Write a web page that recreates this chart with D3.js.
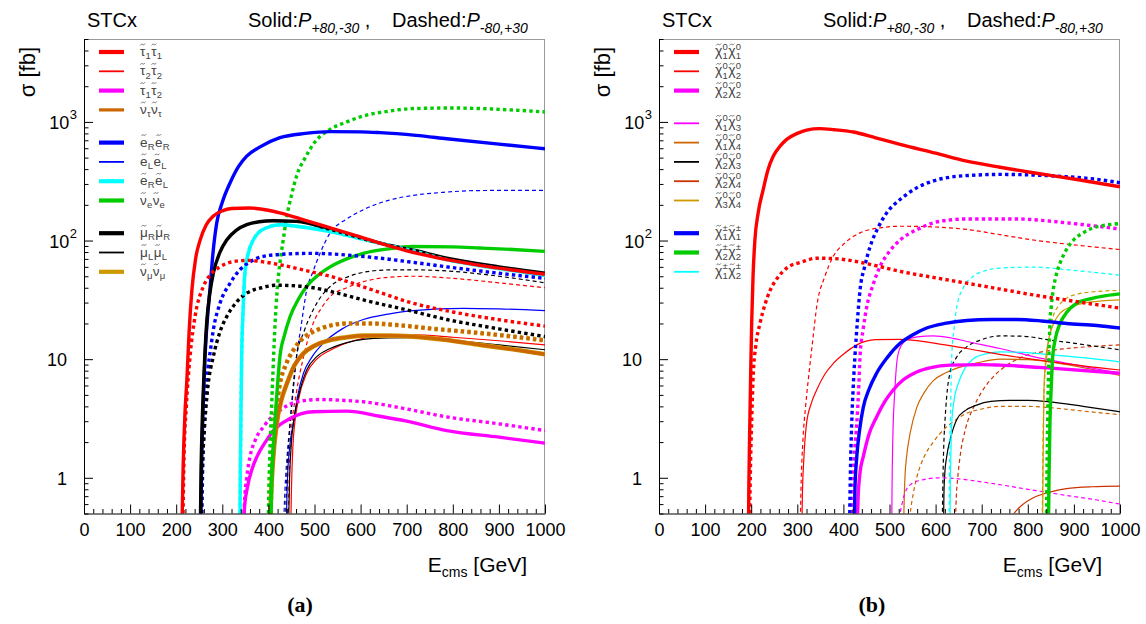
<!DOCTYPE html>
<html><head><meta charset="utf-8">
<script src="https://cdn.jsdelivr.net/npm/d3@7"></script>
<style>
body{margin:0;background:#fff}
svg{display:block}
</style>
</head><body>
<svg id="c" width="1146" height="624" font-family='"Liberation Sans",Arial,Helvetica,sans-serif'></svg>
<script>
// ---------------- DATA ----------------
const xTicks = [0,100,200,300,400,500,600,700,800,900,1000];
const xTickLabels = ["0","100","200","300","400","500","600","700","800","900","1000"];
const yTicks = [1,10,100,1000];
const yTickLabels = [["1",""],["10",""],["10","2"],["10","3"]];
const panelLetters = ["(a)","(b)"];

// Panel (a): sleptons  [E_cms GeV, sigma fb]
const tau11_s = [[212,0.3],[215,1.2],[219,3.5],[223,6.5],[228,17],[234,38],[242,70],[252,101],[265,135],[280,160],[300,178],[320,186],[360,188],[400,180],[425,171],[480,148],[534,128],[590,110],[642,95],[700,82],[787,69],[880,60],[1000,52]];
const tau11_d = [[214,0.3],[217,1.5],[222,4],[230,10.5],[241,23],[259,41],[275,52],[295,60],[320,66],[353,68],[390,66],[425,62.5],[480,56],[534,50],[620,39],[714,29.6],[800,25],[900,21.5],[1000,19]];
const tau22_s = [[448,0.3],[450,0.8],[453,1.8],[457,2.86],[465,4.5],[483,7.6],[505,10],[534,11.9],[570,13.7],[606,15],[660,15.8],[714,16],[800,15.3],[900,14.3],[1000,13.2]];
const tau22_d = [[442,0.3],[445,1],[450,2.5],[460,5],[475,10],[497,20],[515,27],[534,33.7],[570,40],[606,45],[660,49],[714,50],[800,48],[900,44],[1000,40]];
const tau12_s = [[345,0.3],[348,0.55],[355,0.85],[365,1.2],[375,1.5],[396,2.07],[411,2.5],[447,3.16],[497,3.6],[570,3.65],[642,3.3],[700,3.0],[787,2.5],[900,2.2],[1000,1.96]];
const tau12_d = [[346,0.3],[348,0.6],[353,1.0],[360,1.5],[372,2.1],[389,2.68],[405,3.2],[425,3.7],[461,4.37],[512,4.57],[560,4.5],[606,4.37],[700,3.8],[787,3.26],[900,2.85],[1000,2.5]];
const sntau_s = [[403,0.3],[405,0.6],[410,1.4],[418,2.86],[428,4.5],[440,6.2],[456,8.8],[476,11.2],[500,13],[534,14.5],[570,15.3],[606,15.8],[660,15.8],[714,15.5],[787,14.5],[859,13.2],[930,12.1],[1000,11]];
const sntau_d = [[404,0.3],[406,0.8],[412,2.5],[418,4],[425,6.2],[438,9],[454,11.9],[475,15],[497,17],[530,19],[570,20],[620,20],[678,19.4],[760,18],[859,16.6],[1000,14.4]];
const snmu_s = [[403,0.3],[405,0.6],[410,1.4],[418,2.86],[428,4.5],[440,6.2],[456,8.8],[476,11.2],[500,13],[534,14.5],[570,15.3],[606,15.8],[660,15.8],[714,15.5],[787,14.5],[859,13.2],[930,12.1],[1000,11]];
const snmu_d = [[404,0.3],[406,0.8],[412,2.5],[418,4],[425,6.2],[438,9],[454,11.9],[475,15],[497,17],[530,19],[570,20],[620,20],[678,19.4],[760,18],[859,16.6],[1000,14.4]];
const selR_s = [[253,0.3],[255,1.2],[257.4,2.86],[262.5,10.5],[269.6,27],[273,38],[280,80],[288,141],[300,210],[317,307],[335,420],[353,515],[380,610],[425,736],[480,800],[534,828],[600,825],[642,812],[720,770],[787,722],[900,650],[1000,594]];
const selR_d = [[255,0.3],[257,1],[261,3],[267,7],[275,12.5],[280.5,17.6],[295,29.6],[317,43.7],[338,56.6],[360,66],[389,73.5],[440,77],[497,78],[570,75.5],[642,71],[720,65],[787,60],[900,53],[1000,48]];
const selL_s = [[438,0.3],[441,0.9],[446,1.8],[454,2.86],[463,4.8],[476,7.6],[495,10.5],[519,13.6],[560,18],[606,21.6],[660,24],[714,25.7],[823,26.8],[900,26.5],[1000,25.7]];
const selL_d = [[432,0.3],[436,0.8],[441,1.6],[447,2.86],[454,5.5],[461,10.5],[470,18],[483,38],[497,55],[512,78],[534,116],[570,152],[606,182],[660,218],[714,240],[780,255],[859,264],[1000,265]];
const seRL_s = [[338,0.3],[339,1],[340.5,3.5],[342,10.5],[345,25],[349,53],[357,80],[367,101],[380,118],[396,128],[425,136],[460,132],[534,119],[590,106],[642,95],[720,81],[787,69],[900,58],[1000,51]];
const seRL_d = [[338,0.3],[339,1],[340.5,3.5],[342,10.5],[345,25],[349,53],[357,80],[367,101],[380,118],[396,128],[425,136],[460,132],[534,119],[590,106],[642,95],[720,81],[787,69],[900,58],[1000,51]];
const snue_s = [[405,0.3],[407,0.9],[410,1.7],[414,2.86],[419,5.5],[425,10.5],[435,16],[447,22.8],[465,32],[483,41],[505,50],[534,60],[570,70],[606,78],[660,85],[714,89],[800,88.5],[859,86.5],[930,84],[1000,81]];
const snue_d = [[399,0.3],[401,0.8],[404,2],[407,4],[410,8],[414.5,20],[419,38],[425,64.6],[432,100],[440,160],[450,240],[461,349],[480,500],[497,647],[534,866],[570,1000],[606,1122],[660,1230],[714,1296],[800,1310],[859,1296],[930,1260],[1000,1213]];
const smuR_s = [[252,0.3],[254,1.2],[256.5,3],[260,7],[266,20],[273,36],[280.5,53],[295,80],[309.5,101],[330,122],[353,136],[380,144],[410,147],[461,145],[534,124],[590,108],[642,95],[720,82],[787,71],[900,60],[1000,53]];
const smuR_d = [[253,0.3],[256,1],[261,2.5],[268,5.5],[280.5,10.5],[295,17],[309.5,22.8],[330,30],[353,36],[385,40],[418,42],[460,41.5],[497,40],[550,36],[606,31.6],[700,26],[787,21.6],[900,18],[1000,15.5]];
const smuL_s = [[443,0.3],[446,1],[450,2],[454,2.86],[465,4.8],[483,8.1],[505,10.5],[534,12.3],[570,13.8],[606,14.7],[660,15.1],[714,15.2],[800,14.4],[900,13.2],[1000,12]];
const smuL_d = [[436,0.3],[440,1],[446,2.5],[453,5.5],[461,10.5],[477,17],[497,26],[515,34],[534,41],[570,49],[606,54],[660,56.5],[714,56.6],[800,55],[900,50],[1000,44]];

// Panel (b): gauginos
const n11_s = [[193.8,0.3],[195,0.9],[197,2.86],[199,8],[201,20],[204,50],[208,101],[215,170],[226,269],[236,390],[248,515],[262,620],[277,713],[300,800],[320,854],[349,878],[380,860],[421.5,822],[470,735],[523,647],[600,545],[667.5,467],[740,415],[812,373],[900,330],[1000,284]];
const n11_d = [[196,0.3],[198,1],[201,3],[204.6,7.6],[210,13],[219,20],[230,29],[241,38],[258,49],[277,58.6],[310,66],[342,71],[380,70.5],[414,68],[470,61.5],[523,55],[600,48.5],[667.5,43.7],[740,39],[812,34.8],[900,30.8],[1000,26.9]];
const n12_s = [[309.5,0.3],[311,0.7],[314,1.4],[320,2.86],[330,4.2],[342,5.5],[360,7.5],[378,9.2],[400,11],[429,13.2],[470,14.6],[523,14.7],[600,13.6],[667.5,12.3],[750,10.8],[850,9.5],[1000,8.1]];
const n12_d = [[306,0.3],[308,0.8],[312,2],[318,4],[326,8],[334,15],[342,27.6],[360,50],[378,73.5],[400,93],[436,116],[480,128],[523,132],[600,130],[667.5,124],[740,112],[812,101],[900,92],[1000,84]];
const n22_s = [[429,0.3],[432,0.7],[436,1.1],[443,1.5],[455,2.3],[472,3.26],[490,4.4],[508,5.5],[530,6.7],[559,7.8],[590,8.5],[631,8.9],[700,9.0],[740,8.9],[850,8.4],[1000,7.6]];
const n22_d = [[418,0.3],[421,0.9],[425,1.8],[429,2.86],[433,5.5],[436,10.5],[443,18],[450.6,27.6],[464,42],[479,60],[500,81],[523,101],[560,124],[595,141],[630,149],[667.5,152],[776,152],[830,148],[884,141],[1000,125]];
const n13_s = [[504.7,0.3],[505.5,0.8],[507,2],[508,2.86],[511,5],[515.6,9.2],[522,12.2],[537,14.5],[560,15.4],[595,15.7],[630,15.2],[667.5,14.1],[740,12.3],[812,10.5],[900,9.0],[1000,7.6]];
const n13_d = [[519,0.3],[522,0.45],[528,0.62],[537,0.8],[550,0.9],[566,0.95],[609.5,1.0],[650,0.98],[703.5,0.92],[800,0.8],[884,0.71],[950,0.65],[1000,0.6]];
const n14_s = [[530,0.3],[532,0.7],[534,1.1],[537,1.5],[545,2.4],[559,3.9],[575,5.2],[595,6.6],[620,7.6],[646,8.4],[690,9.3],[740,10],[800,9.9],[848,9.5],[920,8.5],[1000,7.3]];
const n14_d = [[540,0.3],[545,0.5],[552,0.75],[559,1.0],[575,1.5],[595,2.0],[620,2.6],[645,3.1],[667.5,3.5],[700,3.8],[740,4.0],[800,4.0],[848,3.9],[920,3.65],[1000,3.4]];
const n23_s = [[616.7,0.3],[618,0.7],[620,1.1],[624,1.5],[633,2.2],[646,3.1],[665,3.7],[689,4.1],[720,4.4],[761,4.5],[800,4.5],[848,4.37],[920,4.0],[1000,3.6]];
const n23_d = [[614,0.3],[616,1],[618,2],[620,2.86],[624,4.8],[631,7.6],[645,10.3],[667.5,12.7],[700,14.6],[740,15.7],[790,15.6],[848,14.5],[920,13.3],[1000,12]];
const n24_s = [[750,0.3],[758,0.42],[770,0.5],[790,0.6],[812,0.68],[850,0.76],[884,0.81],[940,0.84],[1000,0.85]];
const n24_d = [[642,0.3],[645,0.7],[648,1.0],[653,1.5],[665,2.6],[682,3.9],[700,5.3],[725,7.1],[755,8.9],[790,10.5],[840,11.7],[884,12.3],[940,12.8],[1000,13.2]];
const n34_s = [[832,0.3],[833,1.2],[835,5.5],[838,9],[845,14.5],[855,19.5],[870,24.4],[895,27.8],[920,29.6],[960,31],[1000,31.6]];
const n34_d = [[831,0.3],[833,2],[836,6],[841,10.5],[848,16.5],[855,22.8],[868,28.5],[884,32.6],[910,35.5],[942,37],[1000,38]];
const c11_s = [[423,0.3],[425,0.8],[429,1.5],[435,2.5],[443,3.9],[455,5.5],[472,7.6],[495,10.3],[523,13.6],[550,16],[580.7,18.3],[620,20],[667.5,21.2],[720,21.6],[776,21.6],[830,21],[884,20],[950,19.2],[1000,18.3]];
const c11_d = [[413,0.3],[415,1],[418,2.86],[421,5.5],[425,10.5],[430,20],[436,38],[446,60],[458,89],[475,128],[494,171],[525,225],[559,278],[595,318],[631,342],[680,355],[740,361],[810,357],[884,345],[950,328],[1000,307]];
const c22_s = [[844.5,0.3],[846,1],[848,2.86],[851,6],[854,10.5],[860,15],[870,20],[885,25],[906,29.6],[940,32.6],[970,34.3],[1000,35.5]];
const c22_d = [[840,0.3],[842,1.5],[844,5],[846,11],[848,20],[851,28],[855,38],[862,52],[870,64.6],[884,84],[899,101],[920,116],[942,128],[970,135],[1000,139]];
const c12_s = [[631,0.3],[632,0.9],[633.5,1.8],[635,2.86],[640,4.5],[649,6.2],[663,8.3],[682,10.1],[710,11.1],[740,11.5],[790,11.4],[848,10.9],[920,10.3],[1000,9.5]];
const c12_d = [[629,0.3],[630,1],[632,3],[635,10.5],[640,18],[646,27.6],[660,40],[682,50],[710,56],[740,58.6],[812,59.7],[900,56],[1000,51]];

// Legend labels: [base, subscript, superscript]
const legendLabelsA = [
  [["τ","1",""],["τ","1",""]],
  [["τ","2",""],["τ","2",""]],
  [["τ","1",""],["τ","2",""]],
  [["ν","τ",""],["ν","τ",""]],
  [["e","R",""],["e","R",""]],
  [["e","L",""],["e","L",""]],
  [["e","R",""],["e","L",""]],
  [["ν","e",""],["ν","e",""]],
  [["μ","R",""],["μ","R",""]],
  [["μ","L",""],["μ","L",""]],
  [["ν","μ",""],["ν","μ",""]]
];
const legendLabelsB = [
  [["χ","1","0"],["χ","1","0"]],
  [["χ","1","0"],["χ","2","0"]],
  [["χ","2","0"],["χ","2","0"]],
  [["χ","1","0"],["χ","3","0"]],
  [["χ","1","0"],["χ","4","0"]],
  [["χ","2","0"],["χ","3","0"]],
  [["χ","2","0"],["χ","4","0"]],
  [["χ","3","0"],["χ","4","0"]],
  [["χ","1","±"],["χ","1","±"]],
  [["χ","2","±"],["χ","2","±"]],
  [["χ","1","±"],["χ","2","±"]]
];

// ---------------- STYLE ----------------
const RED="#ff0000", MAG="#ff00ff", ORA="#cc6600", BLU="#0000ff", CYA="#00ffff",
      GRN="#00cc00", BLK="#000000", GLD="#cc9900", ORR="#cc3300";

const seriesA = [
  {d:tau22_s,c:RED,t:0,s:0},{d:tau22_d,c:RED,t:0,s:1},
  {d:selL_s,c:BLU,t:0,s:0},{d:selL_d,c:BLU,t:0,s:1},
  {d:smuL_s,c:BLK,t:0,s:0},{d:smuL_d,c:BLK,t:0,s:1},
  {d:tau12_d,c:MAG,t:1,s:1},{d:tau12_s,c:MAG,t:1,s:0},
  {d:snmu_d,c:GLD,t:1,s:1,w:4.6},{d:snmu_s,c:GLD,t:1,s:0,w:4.6},
  {d:sntau_d,c:ORA,t:1,s:1},{d:sntau_s,c:ORA,t:1,s:0},
  {d:snue_s,c:GRN,t:1,s:0},{d:snue_d,c:GRN,t:1,s:1},
  {d:seRL_s,c:CYA,t:1,s:0},
  {d:selR_d,c:BLU,t:1,s:1},{d:selR_s,c:BLU,t:1,s:0},
  {d:smuR_s,c:BLK,t:1,s:0},{d:smuR_d,c:BLK,t:1,s:1},
  {d:seRL_d,c:CYA,t:1,s:1},
  {d:tau11_d,c:RED,t:1,s:1},{d:tau11_s,c:RED,t:1,s:0}
];
const seriesB = [
  {d:n24_s,c:ORR,t:0,s:0},{d:n24_d,c:ORR,t:0,s:1},
  {d:n14_s,c:ORA,t:0,s:0},{d:n14_d,c:ORA,t:0,s:1},
  {d:n23_s,c:BLK,t:0,s:0},{d:n23_d,c:BLK,t:0,s:1},
  {d:n13_s,c:MAG,t:0,s:0},{d:n13_d,c:MAG,t:0,s:1},
  {d:c12_s,c:CYA,t:0,s:0},{d:c12_d,c:CYA,t:0,s:1},
  {d:n34_s,c:GLD,t:0,s:0},{d:n34_d,c:GLD,t:0,s:1},
  {d:n12_s,c:RED,t:0,s:0},{d:n12_d,c:RED,t:0,s:1},
  {d:n22_s,c:MAG,t:1,s:0},{d:n22_d,c:MAG,t:1,s:1},
  {d:c22_d,c:GRN,t:1,s:1},{d:c22_s,c:GRN,t:1,s:0},
  {d:c11_s,c:BLU,t:1,s:0},{d:c11_d,c:BLU,t:1,s:1},
  {d:n11_d,c:RED,t:1,s:1},{d:n11_s,c:RED,t:1,s:0}
];
const legendA = [
  {c:RED,t:1},{c:RED,t:0},{c:MAG,t:1},{c:ORA,t:0.8},
  {c:BLU,t:1},{c:BLU,t:0},{c:CYA,t:1},{c:GRN,t:1},
  {c:BLK,t:1},{c:BLK,t:0},{c:GLD,t:1}
];
const legendB = [
  {c:RED,t:1},{c:RED,t:0},{c:MAG,t:1},
  {c:MAG,t:0},{c:ORA,t:0},{c:BLK,t:0},{c:ORR,t:0},{c:GLD,t:0},
  {c:BLU,t:1},{c:GRN,t:1},{c:CYA,t:0}
];
const groupA = [0,0,0,0,1,1,1,1,2,2,2];
const groupB = [0,0,0,1,1,1,1,1,2,2,2];

// ---------------- LAYOUT ----------------
const svg = d3.select("#c");
const TOP = 39, BOT = 513.5, PW = 461, PH = BOT - TOP;
const SANS = '"Liberation Sans",Arial,Helvetica,sans-serif';
const panels = [
  {left:84, series:seriesA, legend:legendA, labels:legendLabelsA, groups:groupA, letter:panelLetters[0], letterX:300},
  {left:659, series:seriesB, legend:legendB, labels:legendLabelsB, groups:groupB, letter:panelLetters[1], letterX:872}
];

const yMinor = [];
[0.1,1,10,100,1000].forEach(dec=>{ for(let k=2;k<=9;k++){ const v=dec*k; if(v>=0.5 && v<=5000) yMinor.push(v);} });
const xMinor = d3.range(0,1001,20).filter(v=>v%100!==0);

const tildeLine = d3.line().curve(d3.curveBasis);
function legendLabel(g, x, y, parts, greekSize){
  const t = g.append("text").attr("x",x).attr("y",y).attr("fill","#444");
  let cx = x;
  const tildes = [];
  parts.forEach(p=>{
    const b = t.append("tspan").attr("x",cx).attr("y",y).attr("font-size",greekSize).text(p[0]);
    const bw = b.node().getComputedTextLength();
    tildes.push(cx + bw/2);
    let ex = 0;
    if(p[1]){
      const s = t.append("tspan").attr("x",cx+bw+0.2).attr("y",y+3.2).attr("font-size",9.5).text(p[1]);
      ex = Math.max(ex, s.node().getComputedTextLength());
    }
    if(p[2]){
      const s = t.append("tspan").attr("x",cx+bw+0.2).attr("y",y-6.5).attr("font-size",9.5).text(p[2]);
      ex = Math.max(ex, s.node().getComputedTextLength());
    }
    cx += bw + ex + 0.6;
  });
  tildes.forEach(tx=>{
    const ty = y - 11.5;
    g.append("path").attr("d", tildeLine([[tx-2.4,ty+0.9],[tx-1.2,ty-0.6],[tx,ty],[tx+1.2,ty+0.6],[tx+2.4,ty-0.9]]))
      .attr("fill","none").attr("stroke","#555").attr("stroke-width",0.8);
  });
}

panels.forEach((P,pi)=>{
  const g = svg.append("g").attr("transform",`translate(${P.left},${TOP})`);
  const x = d3.scaleLinear().domain([0,1000]).range([0,PW]);
  const y = d3.scaleLog().domain([0.5,5000]).range([PH,0]);

  const clipId = "clip"+pi;
  g.append("clipPath").attr("id",clipId).append("rect").attr("width",PW).attr("height",PH);

  // frame top/right (gray)
  g.append("line").attr("x1",0).attr("x2",PW).attr("y1",0.5).attr("y2",0.5).attr("stroke","#9a9a9a");
  g.append("line").attr("x1",PW-0.5).attr("x2",PW-0.5).attr("y1",0).attr("y2",PH).attr("stroke","#9a9a9a");

  const line = d3.line().x(d=>x(d[0])).y(d=>y(d[1])).curve(d3.curveMonotoneX);
  const lines = g.append("g").attr("clip-path",`url(#${clipId})`);
  P.series.forEach(s=>{
    const w = s.w || (s.t ? 3.4 : 1.2);
    lines.append("path").attr("d",line(s.d)).attr("fill","none")
      .attr("stroke",s.c).attr("stroke-width",w)
      .attr("stroke-dasharray", s.s ? (s.t ? "3.4,3.2" : "4,3") : null)
      .attr("stroke-linejoin","round");
  });

  // legend
  const lg = g.append("g");
  P.legend.forEach((L,i)=>{
    const ly = 13 + i*19.3 + P.groups[i]*13.4;
    lg.append("line").attr("x1",15).attr("x2",40).attr("y1",ly).attr("y2",ly)
      .attr("stroke",L.c).attr("stroke-width", L.t===1 ? 4.2 : (L.t===0 ? 1.8 : 3.2));
    legendLabel(lg, 56, ly+4, P.labels[i], pi===0 ? 13.5 : 14);
  });

  // x axis
  const xa = d3.axisBottom(x).tickValues(xTicks).tickFormat((d,i)=>xTickLabels[i])
    .tickSize(-9).tickSizeOuter(0).tickPadding(10);
  const xg = g.append("g").attr("transform",`translate(0,${PH})`).call(xa);
  xg.attr("font-family",SANS).attr("font-size",18);
  xg.selectAll("text").attr("fill","#000");
  xg.select(".domain").attr("stroke","#000");
  const xm = g.append("g").attr("transform",`translate(0,${PH})`)
    .call(d3.axisBottom(x).tickValues(xMinor).tickFormat("").tickSize(-4.5).tickSizeOuter(0));
  xm.select(".domain").remove();

  // y axis
  const ya = d3.axisLeft(y).tickValues(yTicks).tickFormat("").tickSize(-9).tickSizeOuter(0);
  const yg = g.append("g").call(ya);
  yg.attr("font-family",SANS);
  yg.select(".domain").attr("stroke","#000");
  yg.selectAll(".tick").each(function(d,i){
    const t = d3.select(this);
    const lab = yTickLabels[i];
    const tx = t.append("text").attr("x", lab[1] ? -7 : -17).attr("dy","0.36em").attr("text-anchor","end")
      .attr("font-size",18).attr("fill","#000");
    tx.append("tspan").text(lab[0]);
    if(lab[1]) tx.append("tspan").attr("font-size",13).attr("dy","-0.75em").attr("dx",0.5).text(lab[1]);
  });
  const ym = g.append("g").call(d3.axisLeft(y).tickValues(yMinor).tickFormat("").tickSize(-4.5).tickSizeOuter(0));
  ym.select(".domain").remove();

  // titles
  g.append("text").attr("x",3).attr("y",27-TOP).attr("font-size",20).text("STCx");
  const t1 = g.append("text").attr("x",164).attr("y",27-TOP).attr("font-size",20);
  t1.append("tspan").text("Solid:");
  t1.append("tspan").attr("font-style","italic").text("P");
  t1.append("tspan").attr("font-style","italic").attr("font-size",14).attr("dy",6).text("+80,-30");
  t1.append("tspan").attr("dy",-6).text(" ,");
  const t2 = g.append("text").attr("x",308).attr("y",27-TOP).attr("font-size",20);
  t2.append("tspan").text("Dashed:");
  t2.append("tspan").attr("font-style","italic").text("P");
  t2.append("tspan").attr("font-style","italic").attr("font-size",14).attr("dy",6).text("-80,+30");

  const xt = g.append("text").attr("x",PW-18).attr("y",572-TOP).attr("text-anchor","end").attr("font-size",21);
  xt.append("tspan").text("E");
  xt.append("tspan").attr("font-size",14).attr("dy",5).text("cms");
  xt.append("tspan").attr("dy",-5).text(" [GeV]");

  g.append("text").attr("transform",`translate(-49,${47-TOP}) rotate(-90)`).attr("text-anchor","end")
    .attr("font-size",22).text("σ [fb]");

  svg.append("text").attr("x",P.letterX).attr("y",612).attr("text-anchor","middle")
    .attr("font-family",'"Liberation Serif","Times New Roman",serif').attr("font-weight","bold")
    .attr("font-size",22).text(P.letter);
});
</script>
</body></html>
